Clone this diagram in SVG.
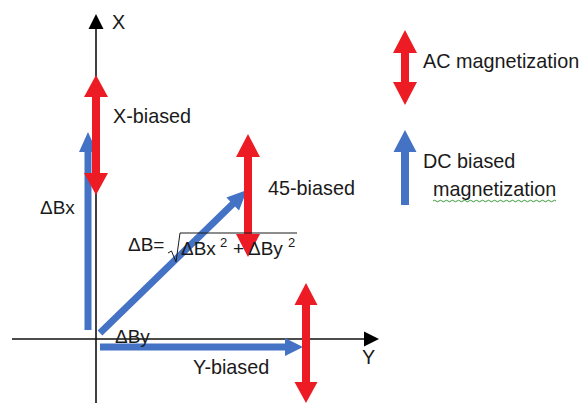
<svg xmlns="http://www.w3.org/2000/svg" width="587" height="403" viewBox="0 0 587 403">
<style>
text{font-family:"Liberation Sans",Arial,sans-serif;font-size:19.8px;fill:#1a1a1a}
.f{font-size:19px}
.sup{font-size:13px}
.axis{stroke:#111;stroke-width:1.6;fill:none}
.ah{fill:#000}
.ac{fill:#ED1C24}
.dc{fill:#4472C4}
</style>
<rect width="587" height="403" fill="#fff"/>
<g id="axes">
<line class="axis" x1="96" y1="403" x2="96" y2="27"/>
<polygon class="ah" points="96,14 103.5,29 88.5,29"/>
<line class="axis" x1="12" y1="339" x2="365" y2="339"/>
<polygon class="ah" points="379,339 364,331.5 364,346.5"/>
<text x="112" y="29">X</text>
<text x="362" y="364">Y</text>
</g>
<g id="connectors">
<path id="dc-x" class="dc" d="M88,132 L97,152 L91.5,152 L91.5,330 L84.5,330 L84.5,152 L79,152 Z"/>
<polygon id="dc-45" class="dc" points="247,190 239.0,210.5 235.1,206.5 102.4,335.5 97.6,330.5 230.3,201.5 226.4,197.5"/>
<path id="dc-y" class="dc" d="M303,347 L285,338 L285,343.5 L100,343.5 L100,350.5 L285,350.5 L285,356 Z"/>
<path id="ac-x" class="ac" d="M96,75 L108,97 L100,97 L100,173 L108,173 L96,195 L84,173 L92,173 L92,97 L84,97 Z"/>
<path id="ac-45" class="ac" d="M248,134 L260,157 L252,157 L252,234 L260,234 L248,257 L236,234 L244,234 L244,157 L236,157 Z"/>
<path id="ac-y" class="ac" d="M306,283 L317.5,305 L310,305 L310,382 L317.5,382 L306,403 L294.5,382 L302,382 L302,305 L294.5,305 Z"/>
</g>
<g id="x-biased"><text x="113" y="123">X-biased</text></g>
<g id="dbx"><text class="f" x="40" y="214">ΔBx</text></g>
<g id="b45"><text x="268" y="195">45-biased</text></g>
<g id="formula">
<text class="f" x="128" y="251">ΔB=</text>
<path d="M168,253 L171.5,251 L176,262 L180,233 L297,233" fill="none" stroke="#1a1a1a" stroke-width="1"/>
<text class="f" x="181" y="255">ΔBx</text>
<text class="sup" x="220" y="247">2</text>
<text class="f" x="233" y="255">+</text>
<text class="f" x="248" y="255">ΔBy</text>
<text class="sup" x="288" y="247">2</text>
</g>
<g id="dby"><text class="f" x="115" y="343">ΔBy</text></g>
<g id="y-biased"><text x="193" y="374">Y-biased</text></g>
<g id="legend-ac">
<path class="ac" d="M405,30 L417,53 L409,53 L409,82 L417,82 L405,105 L393,82 L401,82 L401,53 L393,53 Z"/>
<text x="423" y="68">AC magnetization</text>
</g>
<g id="legend-dc">
<path class="dc" d="M405,130 L416.5,152 L409,152 L409,205 L401,205 L401,152 L393.5,152 Z"/>
<text x="423" y="168">DC biased</text>
<text x="433" y="196">magnetization</text>
<path d="M433,201 q1.5,-1.5 3,0 t3,0 t3,0 t3,0 t3,0 t3,0 t3,0 t3,0 t3,0 t3,0 t3,0 t3,0 t3,0 t3,0 t3,0 t3,0 t3,0 t3,0 t3,0 t3,0 t3,0 t3,0 t3,0 t3,0 t3,0 t3,0 t3,0 t3,0 t3,0 t3,0 t3,0 t3,0 t3,0 t3,0 t3,0 t3,0 t3,0 t3,0 t3,0 t3,0 t3,0" fill="none" stroke="#3a9a3a" stroke-width="1"/>
</g>
</svg>
